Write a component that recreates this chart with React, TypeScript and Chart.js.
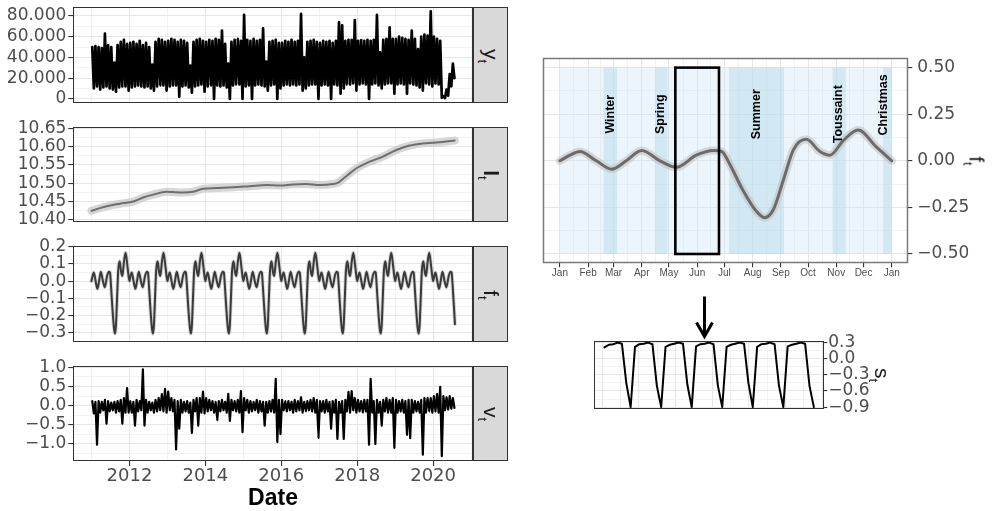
import React, { useEffect, useRef } from "react";
import { Chart, registerables } from "chart.js";
Chart.register(...registerables);

// ---------------- data ----------------
const startYear = 2011;

// y_t : monthly upper / lower envelope of the daily series (Jan 2011 - Jul 2020)
const yHigh = [
  50000, 51000, 50000, 49000, 63000, 52000, 50000, 35000, 52000, 55000, 57000, 53000,
  54000, 55000, 53000, 56000, 52000, 54000, 50000, 33000, 55000, 58000, 57000, 55000,
  56000, 58000, 57000, 55000, 57000, 56000, 54000, 32000, 55000, 57000, 58000, 56000,
  55000, 57000, 56000, 58000, 57000, 66000, 53000, 34000, 55000, 57000, 58000, 56000,
  81000, 57000, 56000, 58000, 56000, 57000, 68000, 36000, 55000, 56000, 57000, 54000,
  54000, 56000, 55000, 57000, 55000, 56000, 82000, 40000, 55000, 56000, 57000, 55000,
  54000, 56000, 55000, 56000, 54000, 56000, 74000, 71000, 56000, 57000, 57000, 76000,
  56000, 57000, 56000, 57000, 56000, 57000, 81000, 45000, 57000, 58000, 69000, 58000,
  58000, 60000, 59000, 58000, 57000, 66000, 58000, 48000, 60000, 62000, 61000, 84500,
  60000, 58000, 56000, 2500, 9000, 24000, 34000,
];
const yLow = [
  10000, 12000, 9000, 11000, 12000, 10000, 9000, 7000, 11000, 12000, 12000, 8000,
  11000, 12000, 13000, 12000, 11000, 12000, 10000, 8000, 12000, 13000, 13000, 8000,
  12000, 13000, 13000, 2000, 12000, 13000, 11000, 6000, 12000, 13000, 14000, 7000,
  12000, 13000, 0, 13000, 12000, 13000, 11000, 0, 13000, 14000, 14000, 0,
  12000, 13000, 0, 13000, 14000, 13000, 12000, 8000, 13000, 14000, 0, 10000,
  13000, 14000, 13000, 14000, 13000, 14000, 8000, 10000, 13000, 14000, 14000, 0,
  13000, 14000, 13000, 0, 14000, 13000, 5000, 10000, 14000, 14000, 15000, 8000,
  14000, 15000, 14000, 0, 14000, 15000, 13000, 10000, 14000, 15000, 15000, 5000,
  14000, 15000, 14000, 5000, 15000, 14000, 13000, 11000, 8000, 15000, 14000, 12000,
  15000, 14000, 1000, 800, 3000, 12000, 20000,
];

// l_t : level
const lYears = [2011.0, 2011.22, 2011.49, 2011.75, 2012.1, 2012.36, 2012.63, 2012.98, 2013.15, 2013.42, 2013.68, 2013.94, 2014.29, 2014.73, 2015.17, 2015.61, 2015.96, 2016.31, 2016.66, 2017.01, 2017.36, 2017.5, 2017.72, 2017.98, 2018.33, 2018.68, 2019.03, 2019.38, 2019.73, 2019.99, 2020.25, 2020.57];
const lVals = [10.4245, 10.432, 10.439, 10.444, 10.45, 10.461, 10.469, 10.477, 10.476, 10.475, 10.477, 10.485, 10.487, 10.489, 10.492, 10.495, 10.494, 10.497, 10.498, 10.495, 10.498, 10.502, 10.52, 10.541, 10.559, 10.573, 10.591, 10.603, 10.609, 10.611, 10.613, 10.617];

// f_t : yearly seasonal profile (day of year -> value)
const fDays = [0, 11, 22, 40, 57, 73, 90, 110, 128, 150, 169, 178, 187, 201, 216, 225, 235, 246, 257, 271, 286, 297, 312, 328, 348, 365];
const fVals = [0, 0.03, 0.05, 0.0, -0.045, 0.0, 0.055, 0.0, -0.035, 0.03, 0.055, 0.05, -0.02, -0.155, -0.27, -0.305, -0.26, -0.1, 0.06, 0.115, 0.05, 0.03, 0.11, 0.165, 0.075, 0];
const fEndX = 2020.575;
const fEndY = -0.25;

// v_t : monthly upper / lower envelope of residuals
const vHigh = [
  0.12, 0.10, 0.12, 0.10, 0.15, 0.12, 0.08, 0.10, 0.12, 0.15, 0.20, 0.46,
  0.12, 0.10, 0.15, 0.12, 0.95, 0.15, 0.10, 0.08, 0.15, 0.20, 0.30, 0.44,
  0.37, 0.20, 0.15, 0.12, 0.15, 0.10, 0.12, 0.08, 0.15, 0.20, 0.20, 0.37,
  0.20, 0.15, 0.12, 0.10, 0.12, 0.15, 0.10, 0.31, 0.15, 0.12, 0.15, 0.38,
  0.20, 0.15, 0.12, 0.10, 0.15, 0.12, 0.10, 0.10, 0.12, 0.15, 0.70, 0.15,
  0.15, 0.12, 0.12, 0.10, 0.15, 0.12, 0.22, 0.10, 0.12, 0.15, 0.20, 0.15,
  0.12, 0.12, 0.15, 0.10, 0.12, 0.15, 0.10, 0.12, 0.15, 0.36, 0.38, 0.20,
  0.15, 0.12, 0.15, 0.15, 0.70, 0.12, 0.15, 0.10, 0.15, 0.20, 0.15, 0.20,
  0.15, 0.12, 0.15, 0.12, 0.15, 0.15, 0.12, 0.10, 0.15, 0.20, 0.20, 0.20,
  0.25, 0.30, 0.49, 0.25, 0.22, 0.25, 0.20,
];
const vLow = [
  -0.20, -1.02, -0.18, -0.12, -0.47, -0.15, -0.12, -0.18, -0.15, -0.47, -0.18, -0.18,
  -0.18, -0.52, -0.15, -0.12, -0.52, -0.18, -0.12, -0.18, -0.15, -0.12, -0.15, -0.18,
  -0.12, -0.15, -1.14, -0.60, -0.18, -0.15, -0.18, -0.71, -0.15, -0.52, -0.18, -0.20,
  -0.15, -0.12, -0.18, -0.38, -0.15, -0.12, -0.18, -0.40, -0.12, -0.15, -0.18, -0.69,
  -0.12, -0.18, -0.15, -0.12, -0.18, -0.15, -0.52, -0.18, -0.15, -0.18, -0.95, -0.74,
  -0.12, -0.15, -0.12, -0.18, -0.15, -0.12, -0.18, -0.15, -0.12, -0.15, -0.18, -0.84,
  -0.15, -0.18, -0.15, -0.60, -0.18, -0.87, -0.18, -0.87, -0.15, -0.18, -0.12, -0.18,
  -0.15, -0.18, -0.15, -1.02, -0.18, -1.00, -0.18, -0.52, -0.15, -0.18, -0.18, -1.10,
  -0.18, -0.15, -0.18, -0.76, -0.85, -0.18, -0.15, -0.18, -1.28, -0.18, -0.15, -0.18,
  -0.15, -0.18, -1.32, -0.12, -0.10, -0.08, -0.06,
];

// s_t : weekly profile, 7 weeks of daily values
const sVals = [
  0.21, 0.26, 0.27, 0.30, 0.28, -0.45, -0.90,
  0.22, 0.27, 0.28, 0.30, 0.27, -0.50, -0.90,
  0.22, 0.26, 0.28, 0.30, 0.28, -0.48, -0.90,
  0.23, 0.27, 0.28, 0.30, 0.27, -0.50, -0.90,
  0.22, 0.26, 0.28, 0.30, 0.28, -0.45, -0.90,
  0.22, 0.27, 0.28, 0.30, 0.27, -0.50, -0.90,
  0.23, 0.26, 0.28, 0.30, 0.28, -0.50, -0.90,
];

// seasonal panel annotations
const monthStarts = [0, 31, 59, 90, 120, 151, 181, 212, 243, 273, 304, 334, 365];
const monthLabels = ["Jan", "Feb", "Mar", "Apr", "May", "Jun", "Jul", "Aug", "Sep", "Oct", "Nov", "Dec", "Jan"];
const monthMid = [15.5, 45, 74.5, 105, 135.5, 166, 196.5, 227.5, 258, 288.5, 319, 349.5];
const vacNames = ["Winter", "Spring", "Summer", "Toussaint", "Christmas"];
const vacStart = [48, 104.5, 186, 300, 355.5];
const vacEnd = [63, 118.5, 246.5, 314.5, 365];
const vacLabelX = [55.5, 111, 216, 307, 356];
const vacLabelY = [0.25, 0.25, 0.25, 0.25, 0.3];
const yearSpan = [0, 365];
const bandY = [-0.5, 0.5];
const boxDays = [127, 175];

// tick definitions
const yearMajor = [2012, 2014, 2016, 2018, 2020];
const yearLabels = ["2012", "2014", "2016", "2018", "2020"];
const yearMinor = [2011, 2013, 2015, 2017, 2019, 2021];
const p1Major = [0, 20000, 40000, 60000, 80000];
const p1Labels = ["0", "20.000", "40.000", "60.000", "80.000"];
const p1Minor = [10000, 30000, 50000, 70000];
const p2Major = [10.4, 10.45, 10.5, 10.55, 10.6, 10.65];
const p2Labels = ["10.40", "10.45", "10.50", "10.55", "10.60", "10.65"];
const p2Minor = [10.425, 10.475, 10.525, 10.575, 10.625];
const p3Major = [-0.3, -0.2, -0.1, 0, 0.1, 0.2];
const p3Labels = ["\u22120.3", "\u22120.2", "\u22120.1", "0.0", "0.1", "0.2"];
const p3Minor = [-0.25, -0.15, -0.05, 0.05, 0.15];
const p4Major = [-1, -0.5, 0, 0.5, 1];
const p4Labels = ["\u22121.0", "\u22120.5", "0.0", "0.5", "1.0"];
const p4Minor = [-1.25, -0.75, -0.25, 0.25, 0.75];
const fMajor = [-0.5, -0.25, 0, 0.25, 0.5];
const fLabels = ["\u22120.50", "\u22120.25", "0.00", "0.25", "0.50"];
const fMinor = [-0.375, -0.125, 0.125, 0.375];
const sMajor = [-0.9, -0.6, -0.3, 0, 0.3];
const sLabels = ["\u22120.9", "\u22120.6", "\u22120.3", "0.0", "0.3"];
const sMinor = [-0.75, -0.45, -0.15, 0.15];
const sXMajor = [-0.5, 7.9, 16.3, 24.7, 33.1, 41.5, 49.9];
const sXMinor = [3.7, 12.1, 20.5, 28.9, 37.3, 45.7];

// ---------------- helpers ----------------
const NUM_FONT = "'DejaVu Sans', sans-serif";
const TXT_FONT = "'Liberation Sans', Arial, sans-serif";

function zigzag(high: number[], low: number[]) {
  const pts: { x: number; y: number }[] = [];
  for (let i = 0; i < high.length; i++) {
    const base = startYear + i / 12;
    pts.push({ x: base + 0.25 / 12, y: high[i] });
    pts.push({ x: base + 0.75 / 12, y: low[i] });
  }
  return pts;
}

function seasonRepeated() {
  const pts: { x: number; y: number }[] = [];
  for (let yr = 2011; yr <= 2020; yr++) {
    for (let k = 0; k < fDays.length - 1; k++) {
      const x = yr + fDays[k] / 365;
      if (x >= fEndX) break;
      pts.push({ x, y: fVals[k] });
    }
  }
  pts.push({ x: fEndX, y: fEndY });
  return pts;
}

type AxisSpec = {
  min: number; max: number; major: number[]; labels: string[]; minor: number[];
  position: string; size: number; showLabels: boolean; tickMarks: boolean;
  tickLength?: number; padding?: number; fontSize?: number; fontFamily?: string; horizontal: boolean;
};

function makeAxis(a: AxisSpec) {
  const inRange = (v: number) => v >= a.min - 1e-9 && v <= a.max + 1e-9;
  const vals = [...a.major, ...a.minor].filter(inRange).sort((p, q) => p - q);
  const isMajor = (v: any) => typeof v === "number" && a.major.some((m) => Math.abs(m - v) < 1e-7);
  return {
    type: "linear",
    position: a.position,
    min: a.min,
    max: a.max,
    afterBuildTicks: (s: any) => { s.ticks = vals.map((v) => ({ value: v })); },
    afterFit: (s: any) => {
      if (a.horizontal) { s.height = a.size; s.paddingLeft = 0; s.paddingRight = 0; }
      else { s.width = a.size; s.paddingTop = 0; s.paddingBottom = 0; }
    },
    grid: {
      display: true,
      drawOnChartArea: true,
      drawTicks: a.tickMarks,
      tickLength: a.tickLength ?? 5,
      color: (c: any) => (isMajor(c.tick?.value) ? "#e6e6e6" : "#efefef"),
      lineWidth: (c: any) => (isMajor(c.tick?.value) ? 1.1 : 0.8),
      tickColor: (c: any) => (isMajor(c.tick?.value) ? "#333333" : "rgba(0,0,0,0)"),
      tickWidth: 1.1,
    },
    border: { display: false },
    ticks: {
      display: a.showLabels,
      autoSkip: false,
      maxRotation: 0,
      minRotation: 0,
      padding: a.padding ?? 2,
      color: "#4d4d4d",
      font: { family: a.fontFamily ?? NUM_FONT, size: a.fontSize ?? 17 },
      callback: (v: any) => {
        const i = a.major.findIndex((m) => Math.abs(m - v) < 1e-7);
        return i >= 0 ? a.labels[i] : "";
      },
    },
  };
}

function borderPlugin(color: string, width: number) {
  return {
    id: "panelBorder",
    afterDraw(chart: any) {
      const a = chart.chartArea;
      const c = chart.ctx;
      c.save();
      c.strokeStyle = color;
      c.lineWidth = width;
      const l = Math.round(a.left) + 0.5, t = Math.round(a.top) + 0.5;
      const r = Math.round(a.right) - 0.5, b = Math.round(a.bottom) - 0.5;
      c.strokeRect(l, t, r - l, b - t);
      c.restore();
    },
  };
}

function baseOptions(padding: any, x: any, y: any) {
  return {
    animation: false,
    responsive: false,
    maintainAspectRatio: false,
    events: [],
    layout: { padding },
    plugins: { legend: { display: false }, tooltip: { enabled: false }, title: { display: false } },
    elements: { point: { radius: 0 } },
    scales: { x, y },
  };
}

const X_MIN = 2010.521;
const X_MAX = 2021.059;

function leftX(bottom: boolean) {
  return makeAxis({
    min: X_MIN, max: X_MAX, major: yearMajor, labels: yearLabels, minor: yearMinor,
    position: "bottom", size: bottom ? 29 : 0, showLabels: bottom, tickMarks: bottom,
    tickLength: 5, padding: 0, fontSize: 18, horizontal: true,
  });
}

function leftY(min: number, max: number, major: number[], labels: string[], minor: number[]) {
  return makeAxis({
    min, max, major, labels, minor, position: "left", size: 73.3, showLabels: true,
    tickMarks: true, tickLength: 5, padding: 2, fontSize: 17, horizontal: false,
  });
}

function lineDs(data: any[], color: string, width: number, extra: any = {}) {
  return {
    data, borderColor: color, borderWidth: width, pointRadius: 0, fill: false,
    borderJoinStyle: "round", borderCapStyle: "round", tension: 0, ...extra,
  };
}

// ---------------- configs ----------------
function cfgY() {
  return {
    type: "line",
    data: { datasets: [lineDs(zigzag(yHigh, yLow), "#000000", 2.7, { tension: 0.00001 })] },
    options: baseOptions({ left: 0, right: 2.7, top: 7.3, bottom: 9.3 }, leftX(false), leftY(-3700, 88400, p1Major, p1Labels, p1Minor)),
    plugins: [borderPlugin("#333333", 1)],
  };
}

function cfgL() {
  const pts = lYears.map((x, i) => ({ x, y: lVals[i] }));
  return {
    type: "line",
    data: {
      datasets: [
        lineDs(pts, "#6e6e6e", 2, { cubicInterpolationMode: "monotone", order: 1 }),
        lineDs(pts, "rgba(200,200,200,0.75)", 8, { cubicInterpolationMode: "monotone", order: 2 }),
      ],
    },
    options: baseOptions({ left: 0, right: 2.7, top: 13.3, bottom: 11.3 }, leftX(false), leftY(10.395, 10.653, p2Major, p2Labels, p2Minor)),
    plugins: [borderPlugin("#333333", 1)],
  };
}

function cfgF() {
  const pts = seasonRepeated();
  return {
    type: "line",
    data: {
      datasets: [
        lineDs(pts, "#3a3a3a", 2, { cubicInterpolationMode: "monotone", order: 1 }),
        lineDs(pts, "rgba(170,170,170,0.5)", 3.8, { cubicInterpolationMode: "monotone", order: 2 }),
      ],
    },
    options: baseOptions({ left: 0, right: 2.7, top: 12, bottom: 11.3 }, leftX(false), leftY(-0.352, 0.204, p3Major, p3Labels, p3Minor)),
    plugins: [borderPlugin("#333333", 1)],
  };
}

function cfgV() {
  return {
    type: "line",
    data: { datasets: [lineDs(zigzag(vHigh, vLow), "#000000", 2.2, { tension: 0.00001 })] },
    options: baseOptions({ left: 0, right: 2.7, top: 11.7, bottom: 0 }, leftX(true), leftY(-1.444, 1.043, p4Major, p4Labels, p4Minor)),
    plugins: [borderPlugin("#333333", 1)],
  };
}

const seasonPlugin = {
  id: "season",
  beforeDatasetsDraw(chart: any) {
    const { ctx, scales } = chart;
    const x = scales.x, y = scales.y;
    const top = y.getPixelForValue(bandY[1]);
    const bot = y.getPixelForValue(bandY[0]);
    ctx.save();
    const x0 = x.getPixelForValue(yearSpan[0]);
    const x1 = x.getPixelForValue(yearSpan[1]);
    ctx.fillStyle = "rgba(200,225,245,0.35)";
    ctx.fillRect(x0, top, x1 - x0, bot - top);
    ctx.fillStyle = "rgba(173,216,230,0.42)";
    for (let i = 0; i < vacStart.length; i++) {
      const a = x.getPixelForValue(vacStart[i]);
      const b = x.getPixelForValue(vacEnd[i]);
      ctx.fillRect(a, top, b - a, bot - top);
    }
    ctx.restore();
  },
  afterDatasetsDraw(chart: any) {
    const { ctx, scales } = chart;
    const x = scales.x, y = scales.y;
    ctx.save();
    const a = x.getPixelForValue(boxDays[0]);
    const b = x.getPixelForValue(boxDays[1]);
    const t = y.getPixelForValue(bandY[1]);
    const bt = y.getPixelForValue(bandY[0]);
    ctx.strokeStyle = "#000000";
    ctx.lineWidth = 2.6;
    ctx.strokeRect(a, t, b - a, bt - t);
    ctx.fillStyle = "#000000";
    ctx.font = "bold 12.5px " + TXT_FONT;
    ctx.textAlign = "center";
    ctx.textBaseline = "middle";
    for (let i = 0; i < vacNames.length; i++) {
      ctx.save();
      ctx.translate(x.getPixelForValue(vacLabelX[i]), y.getPixelForValue(vacLabelY[i]));
      ctx.rotate(-Math.PI / 2);
      ctx.fillText(vacNames[i], 0, 0);
      ctx.restore();
    }
    ctx.restore();
  },
};

function cfgSeason() {
  const pts = fDays.map((d, i) => ({ x: d, y: fVals[i] }));
  const xAxis = makeAxis({
    min: -18.25, max: 383.25, major: monthStarts, labels: monthLabels, minor: monthMid,
    position: "bottom", size: 26.7, showLabels: true, tickMarks: true, tickLength: 4,
    padding: 0, fontSize: 10, fontFamily: TXT_FONT, horizontal: true,
  });
  const yAxis = makeAxis({
    min: -0.55, max: 0.55, major: fMajor, labels: fLabels, minor: fMinor,
    position: "right", size: 60, showLabels: true, tickMarks: true, tickLength: 4,
    padding: 5, fontSize: 17, horizontal: false,
  });
  return {
    type: "line",
    data: {
      datasets: [
        lineDs(pts, "#6b6b6b", 3, { cubicInterpolationMode: "monotone", order: 1 }),
        lineDs(pts, "rgba(195,195,195,0.6)", 8, { cubicInterpolationMode: "monotone", order: 2 }),
      ],
    },
    options: baseOptions({ left: 13.3, right: 27.7, top: 13.3, bottom: 0 }, xAxis, yAxis),
    plugins: [seasonPlugin, borderPlugin("#7a7a7a", 1.5)],
  };
}

function cfgWeek() {
  const pts = sVals.map((v, i) => ({ x: i, y: v }));
  const xAxis = makeAxis({
    min: -2.4, max: 50.4, major: sXMajor, labels: sXMajor.map(() => ""), minor: sXMinor,
    position: "bottom", size: 0, showLabels: false, tickMarks: false, horizontal: true,
  });
  const yAxis = makeAxis({
    min: -0.935, max: 0.335, major: sMajor, labels: sLabels, minor: sMinor,
    position: "right", size: 50, showLabels: true, tickMarks: true, tickLength: 3,
    padding: 1, fontSize: 17, horizontal: false,
  });
  return {
    type: "line",
    data: { datasets: [lineDs(pts, "#000000", 2)] },
    options: baseOptions({ left: 14, right: 15.7, top: 15.7, bottom: 16 }, xAxis, yAxis),
    plugins: [borderPlugin("#333333", 1)],
  };
}

// ---------------- components ----------------
function ChartCanvas(props: { left: number; top: number; width: number; height: number; make: () => any }) {
  const ref = useRef<HTMLCanvasElement | null>(null);
  useEffect(() => {
    if (!ref.current) return;
    const chart = new Chart(ref.current, props.make());
    return () => chart.destroy();
  }, []);
  return (
    <canvas
      ref={ref}
      width={props.width}
      height={props.height}
      style={{ position: "absolute", left: props.left, top: props.top, width: props.width, height: props.height }}
    />
  );
}

function RotLabel(props: { cx: number; cy: number; main: string; sub: string; size: number; bold?: boolean }) {
  return (
    <div
      style={{
        position: "absolute", left: props.cx, top: props.cy,
        transform: "translate(-50%, -50%) rotate(90deg)",
        fontFamily: TXT_FONT, fontSize: props.size, color: "#1a1a1a",
        whiteSpace: "nowrap", lineHeight: 1,
      }}
    >
      <span style={{ fontWeight: props.bold ? "bold" : "normal" }}>{props.main}</span>
      <span style={{ fontSize: props.size * 0.62, position: "relative", top: props.size * 0.3 }}>{props.sub}</span>
    </div>
  );
}

const strips = [
  { top: 7.3, bottom: 102.7, main: "y", sub: "t", bold: false },
  { top: 127.3, bottom: 221.7, main: "l", sub: "t", bold: true },
  { top: 246, bottom: 341.7, main: "f", sub: "t", bold: false },
  { top: 365.7, bottom: 461, main: "v", sub: "t", bold: false },
];

export default function App() {
  return (
    <div
      style={{
        position: "absolute", left: 0, top: 0, width: 996, height: 511,
        background: "#ffffff", overflow: "hidden", fontFamily: TXT_FONT,
      }}
    >
      <ChartCanvas left={0} top={0} width={476} height={112} make={cfgY} />
      <ChartCanvas left={0} top={114} width={476} height={119} make={cfgL} />
      <ChartCanvas left={0} top={234} width={476} height={119} make={cfgF} />
      <ChartCanvas left={0} top={354} width={476} height={136} make={cfgV} />
      <ChartCanvas left={530} top={45} width={466} height={245} make={cfgSeason} />
      <ChartCanvas left={580} top={325} width={310} height={100} make={cfgWeek} />

      {strips.map((s, i) => (
        <div
          key={i}
          style={{
            position: "absolute", left: 473, top: s.top, width: 35, height: s.bottom - s.top,
            background: "#d9d9d9", border: "1px solid #333333", boxSizing: "border-box",
          }}
        >
          <RotLabel cx={17} cy={(s.bottom - s.top) / 2} main={s.main} sub={s.sub} size={21} bold={s.bold} />
        </div>
      ))}

      <div
        style={{
          position: "absolute", left: 273, top: 496.5, transform: "translate(-50%, -50%)",
          fontFamily: TXT_FONT, fontWeight: "bold", fontSize: 23, color: "#000", whiteSpace: "nowrap", lineHeight: 1,
        }}
      >
        Date
      </div>

      <RotLabel cx={977} cy={161} main="f" sub="t" size={21} />
      <RotLabel cx={882} cy={375} main="s" sub="t" size={21} />

      <svg
        width={996}
        height={511}
        style={{ position: "absolute", left: 0, top: 0, pointerEvents: "none" }}
      >
        <line x1={704.5} y1={296.5} x2={704.5} y2={336} stroke="#000" strokeWidth={3} />
        <polyline points="696.5,322.5 704.5,336.5 712.5,322.5" fill="none" stroke="#000" strokeWidth={3} strokeLinejoin="miter" />
      </svg>
    </div>
  );
}
